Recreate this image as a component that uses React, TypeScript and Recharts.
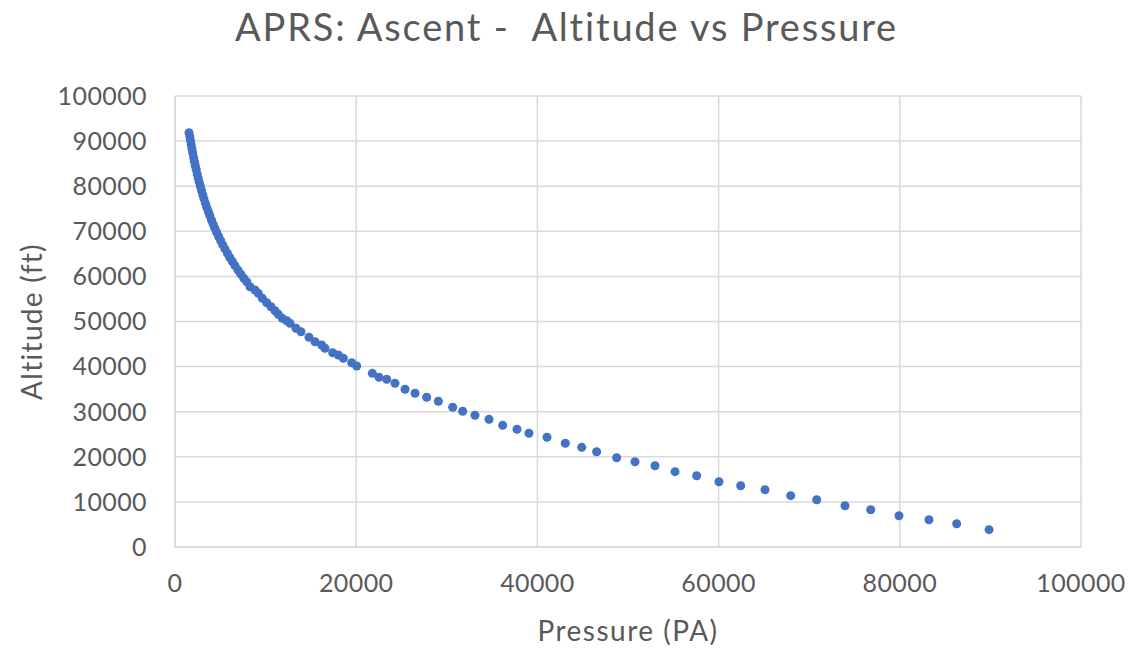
import { ScatterChart, Scatter, XAxis, YAxis, ZAxis, CartesianGrid } from "recharts";

// readings off the ascent log: pressure (Pa) and altitude (ft), same order
const pressurePa = [
  1550, 1640, 1715, 1790, 1870, 1955, 2050, 2140, 2235, 2335, 2450, 2560, 2675, 2795, 2935, 3065, 3200, 3360,
  3510, 3670, 3835, 4025, 4205, 4395, 4595, 4825, 5045, 5270, 5510, 5790, 6050, 6325, 6615, 6950, 7265, 7590,
  7914, 8278, 8830, 9194, 9636, 10121, 10596, 11038, 11402, 11843, 12329, 12693, 13355, 13907, 14790, 15453,
  16192, 16556, 17406, 18024, 18576, 19503, 20055,
  21780, 22520, 23370, 24280, 25390, 26490, 27780, 29070, 30650, 31750, 33110, 34660, 36170, 37750, 39070,
  41060, 43080, 44890, 46540, 48750, 50770, 52980, 55190, 57580, 60040, 62440, 65120, 67960, 70830, 73950,
  76790, 79910, 83220, 86280, 89850,
];

const altitudeFt = [
  91870, 91000, 90100, 89200, 88300, 87400, 86400, 85500, 84600, 83700, 82700, 81800, 80900, 80000, 79000, 78100,
  77200, 76200, 75300, 74400, 73500, 72500, 71600, 70700, 69800, 68800, 67900, 67000, 66100, 65100, 64200, 63300,
  62400, 61400, 60500, 59600,
  58825, 57716, 56984, 56253, 55144, 54169, 53282, 52395, 51596, 50710, 50177, 49601, 48492, 47738, 46497, 45521,
  44789, 44058, 43082, 42572, 41840, 40865, 40133,
  38510, 37630, 37180, 36300, 34970, 34080, 33190, 32310, 30980, 30090, 29200, 28310, 26980, 26100, 25210,
  24320, 22990, 22100, 21130, 19800, 18910, 18030, 16700, 15810, 14480, 13590, 12700, 11380, 10490, 9160,
  8270, 6940, 6050, 5170, 3840,
];

const xTicks = [0, 20000, 40000, 60000, 80000, 100000];
const yTicks = [0, 10000, 20000, 30000, 40000, 50000, 60000, 70000, 80000, 90000, 100000];

const points = pressurePa.map((p, i) => ({ pressure: p, altitude: altitudeFt[i] }));

const FONT = "Lato, 'Open Sans', sans-serif";
const TEXT = "#595959";
const GRID = "#d9d9d9";

export default function App() {
  return (
    <div style={{ position: "absolute", left: 0, top: 0, width: 1133, height: 650, background: "#fff", fontFamily: FONT }}>
      <div
        style={{
          position: "absolute",
          left: 0,
          top: 3,
          width: 1133,
          textAlign: "center",
          fontSize: 38,
          letterSpacing: 1.8,
          color: TEXT,
          whiteSpace: "pre",
        }}
      >
        APRS: Ascent -  Altitude vs Pressure
      </div>
      <ScatterChart width={1133} height={650} margin={{ top: 96, right: 52, bottom: 0, left: 0 }}>
        <CartesianGrid stroke={GRID} strokeWidth={1.5} />
        <XAxis
          type="number"
          dataKey="pressure"
          domain={[0, 100000]}
          ticks={xTicks}
          height={103}
          tickSize={0}
          tickMargin={27}
          axisLine={{ stroke: GRID, strokeWidth: 1.5 }}
          tick={{ fill: TEXT, fontSize: 25, fontFamily: FONT, letterSpacing: 0.4 }}
          label={{
            value: "Pressure (PA)",
            position: "insideBottom",
            offset: 9,
            fill: TEXT,
            fontSize: 28,
            fontFamily: FONT,
            style: { letterSpacing: 1.5 },
          }}
        />
        <YAxis
          type="number"
          dataKey="altitude"
          domain={[0, 100000]}
          ticks={yTicks}
          width={175}
          tickSize={0}
          tickMargin={28}
          axisLine={{ stroke: GRID, strokeWidth: 1.5 }}
          tick={{ fill: TEXT, fontSize: 25, fontFamily: FONT, letterSpacing: 0.4 }}
          label={{
            value: "Altitude (ft)",
            angle: -90,
            position: "insideLeft",
            offset: 32,
            fill: TEXT,
            fontSize: 28,
            fontFamily: FONT,
            style: { textAnchor: "middle", letterSpacing: 1.3 },
          }}
        />
        <ZAxis range={[30, 30]} />
        <Scatter data={points} fill="#4472c4" isAnimationActive={false} />
      </ScatterChart>
    </div>
  );
}
